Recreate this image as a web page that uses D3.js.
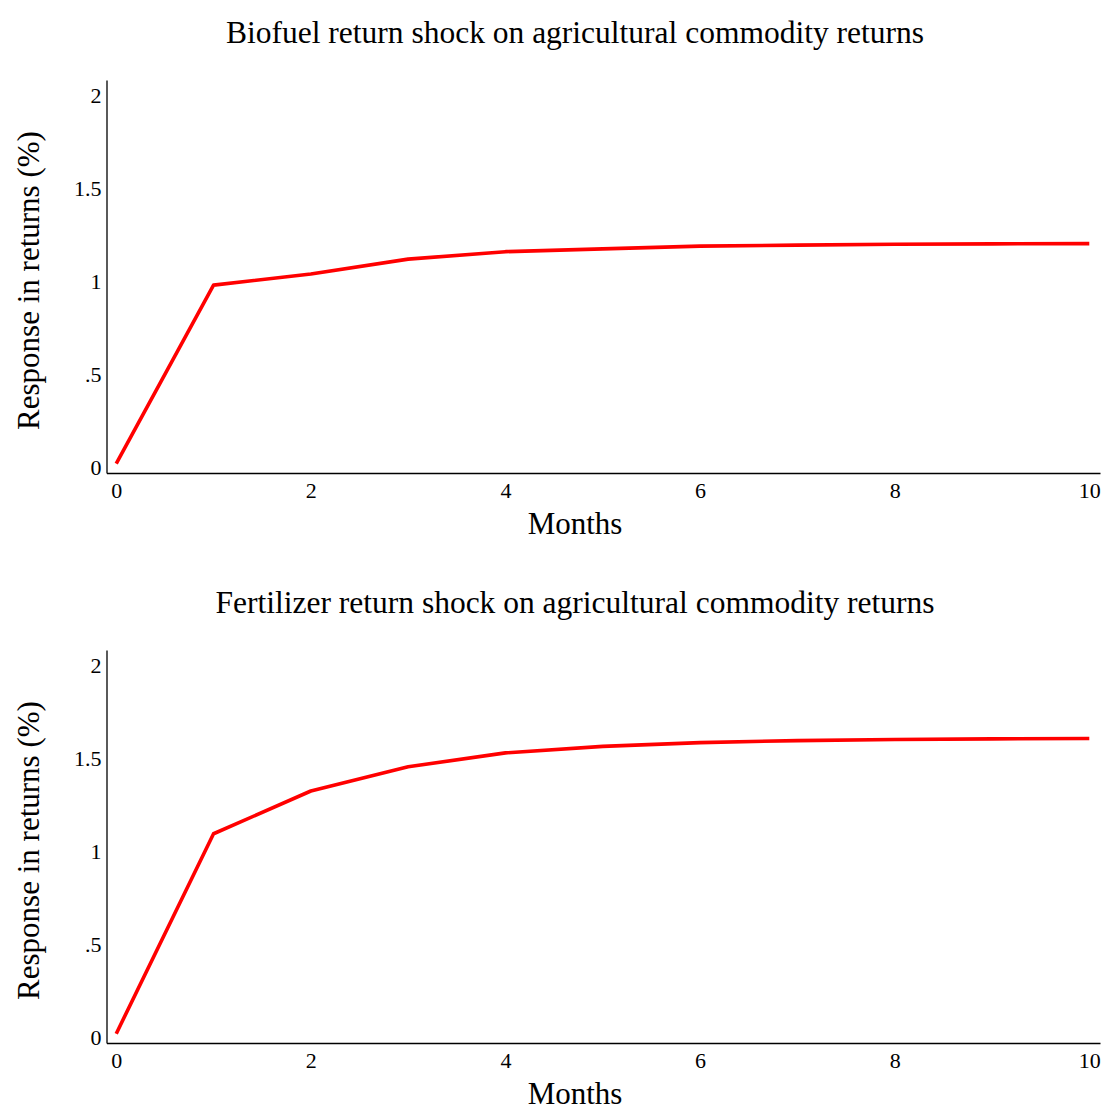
<!DOCTYPE html>
<html>
<head>
<meta charset="utf-8">
<script src="https://cdn.jsdelivr.net/npm/d3@7"></script>
<style>
  html, body { margin: 0; padding: 0; background: #fff; }
  svg { display: block; }
  text { font-family: "Liberation Serif", "Times New Roman", serif; fill: #000; }
</style>
</head>
<body>
<svg id="chart" width="1107" height="1108"></svg>
<script>
// ---- data ----
const months = [0, 1, 2, 3, 4, 5, 6, 7, 8, 9, 10];
const biofuelResponse = [0.02, 0.98, 1.04, 1.12, 1.16, 1.175, 1.19, 1.195, 1.2, 1.202, 1.203];
const fertilizerResponse = [0.02, 1.095, 1.325, 1.455, 1.53, 1.565, 1.585, 1.596, 1.602, 1.605, 1.607];
const xTicks = [0, 2, 4, 6, 8, 10];
const yTicks = [0, 0.5, 1, 1.5, 2];
const yTickLabels = ["0", ".5", "1", "1.5", "2"];
const titles = [
  "Biofuel return shock on agricultural commodity returns",
  "Fertilizer return shock on agricultural commodity returns"
];
const xTitle = "Months";
const yTitle = "Response in returns (%)";

// ---- drawing ----
const svg = d3.select("#chart");
const panels = [
  { title: titles[0], values: biofuelResponse, offset: 0 },
  { title: titles[1], values: fertilizerResponse, offset: 570 }
];

panels.forEach(p => {
  const g = svg.append("g").attr("transform", `translate(0,${p.offset})`);
  const x = d3.scaleLinear().domain([-0.1, 10.11]).range([106.5, 1100]);
  const y = d3.scaleLinear().domain([-0.03, 2.083]).range([473, 80]);

  g.append("text")
    .attr("x", 575).attr("y", 43)
    .attr("text-anchor", "middle")
    .style("font-size", "31.5px")
    .text(p.title);

  const yAxis = d3.axisLeft(y)
    .tickValues(yTicks)
    .tickFormat((d, i) => yTickLabels[i])
    .tickSize(0).tickPadding(5);
  const ya = g.append("g").attr("transform", `translate(${x.range()[0]},0)`).call(yAxis);
  ya.select(".domain").attr("stroke", "#000").attr("stroke-width", 1.3);
  ya.selectAll("text").style("font-size", "22px").attr("font-family", null);

  const xAxis = d3.axisBottom(x)
    .tickValues(xTicks)
    .tickFormat(d3.format("d"))
    .tickSize(0).tickPadding(9);
  const xa = g.append("g").attr("transform", `translate(0,${y.range()[0]})`).call(xAxis);
  xa.select(".domain").attr("stroke", "#000").attr("stroke-width", 1.3);
  xa.selectAll("text").style("font-size", "22px").attr("font-family", null);

  g.append("text")
    .attr("x", 575).attr("y", 534)
    .attr("text-anchor", "middle")
    .style("font-size", "31px")
    .text(xTitle);

  g.append("text")
    .attr("transform", `translate(39,${(y.range()[0] + y.range()[1]) / 2 + 4}) rotate(-90)`)
    .attr("text-anchor", "middle")
    .style("font-size", "31px")
    .text(yTitle);

  const line = d3.line().x((d, i) => x(months[i])).y(d => y(d));
  g.append("path")
    .datum(p.values)
    .attr("fill", "none")
    .attr("stroke", "#ff0000")
    .attr("stroke-width", 3.6)
    .attr("stroke-linejoin", "round")
    .attr("d", line);
});
</script>
</body>
</html>
